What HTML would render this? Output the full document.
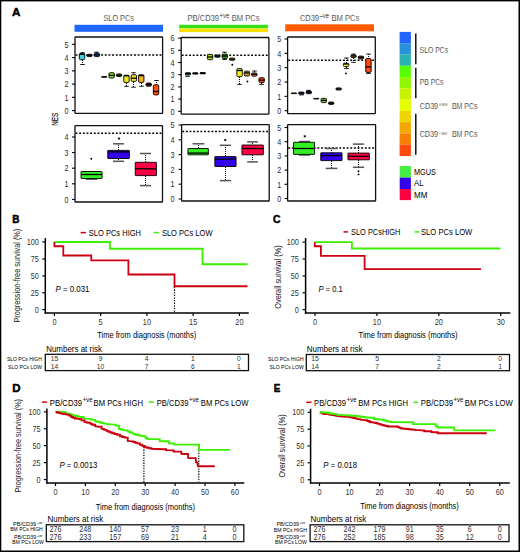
<!DOCTYPE html>
<html><head><meta charset="utf-8"><style>
html,body{margin:0;padding:0;background:#fff;}
body{width:520px;height:552px;overflow:hidden;font-family:"Liberation Sans",sans-serif;}
svg{display:block;}
</style></head><body>
<svg width="520" height="552" viewBox="0 0 520 552" font-family="'Liberation Sans', sans-serif"><style>text{stroke:none;}</style>
<rect x="0.00" y="0.00" width="520.00" height="552.00" fill="#fff" stroke="none" stroke-width="1" rx="0"/>
<text x="11.90" y="15.60" font-size="11" textLength="8.40" lengthAdjust="spacingAndGlyphs" font-weight="bold" style="stroke:#000;stroke-width:0.45px" fill="#000" >A</text>
<text x="103.50" y="21.00" font-size="9.0" textLength="30.40" lengthAdjust="spacingAndGlyphs" style="stroke:#fff;stroke-width:0.22px">SLO PCs</text>
<rect x="74.50" y="24.80" width="88.50" height="7.00" fill="#2166ff" stroke="none" stroke-width="1" rx="0"/>
<text x="187.40" y="21.00" font-size="9.0" textLength="31.70" lengthAdjust="spacingAndGlyphs" style="stroke:#fff;stroke-width:0.22px">PB/CD39</text>
<text x="219.60" y="18.40" font-size="6.8" textLength="9.60" lengthAdjust="spacingAndGlyphs" style="stroke:#fff;stroke-width:0.15px">+ve</text>
<text x="231.70" y="21.00" font-size="9.0" textLength="27.90" lengthAdjust="spacingAndGlyphs" style="stroke:#fff;stroke-width:0.22px">BM PCs</text>
<rect x="179.20" y="24.80" width="88.70" height="3.60" fill="#33e01a" stroke="none" stroke-width="1" rx="0"/>
<rect x="179.20" y="28.40" width="88.70" height="3.70" fill="#ffe100" stroke="none" stroke-width="1" rx="0"/>
<text x="300.00" y="21.00" font-size="9.0" textLength="19.00" lengthAdjust="spacingAndGlyphs" style="stroke:#fff;stroke-width:0.22px">CD39</text>
<text x="319.50" y="18.40" font-size="6.8" textLength="9.60" lengthAdjust="spacingAndGlyphs" style="stroke:#fff;stroke-width:0.15px">–ve</text>
<text x="331.50" y="21.00" font-size="9.0" textLength="27.90" lengthAdjust="spacingAndGlyphs" style="stroke:#fff;stroke-width:0.22px">BM PCs</text>
<rect x="285.20" y="24.30" width="88.80" height="7.00" fill="#ff5a00" stroke="none" stroke-width="1" rx="0"/>
<rect x="75.00" y="37.00" width="87.60" height="76.30" fill="none" stroke="#111" stroke-width="1.3" rx="0.6"/>
<rect x="181.20" y="37.50" width="87.70" height="76.60" fill="none" stroke="#111" stroke-width="1.3" rx="0.6"/>
<rect x="287.60" y="37.00" width="87.70" height="76.60" fill="none" stroke="#111" stroke-width="1.3" rx="0.6"/>
<rect x="75.00" y="125.60" width="87.50" height="76.40" fill="none" stroke="#111" stroke-width="1.3" rx="0.6"/>
<rect x="181.60" y="124.70" width="87.60" height="76.30" fill="none" stroke="#111" stroke-width="1.3" rx="0.6"/>
<rect x="287.60" y="124.70" width="88.00" height="76.30" fill="none" stroke="#111" stroke-width="1.3" rx="0.6"/>
<line x1="72.00" y1="110.60" x2="75.00" y2="110.60" stroke="#000" stroke-width="1.1" stroke-linecap="butt"/>
<text x="64.40" y="113.80" font-size="9.3" textLength="4.00" lengthAdjust="spacingAndGlyphs" fill="#2a2a2a" >0</text>
<line x1="72.00" y1="97.35" x2="75.00" y2="97.35" stroke="#000" stroke-width="1.1" stroke-linecap="butt"/>
<text x="64.40" y="100.55" font-size="9.3" textLength="4.00" lengthAdjust="spacingAndGlyphs" fill="#2a2a2a" >1</text>
<line x1="72.00" y1="84.10" x2="75.00" y2="84.10" stroke="#000" stroke-width="1.1" stroke-linecap="butt"/>
<text x="64.40" y="87.30" font-size="9.3" textLength="4.00" lengthAdjust="spacingAndGlyphs" fill="#2a2a2a" >2</text>
<line x1="72.00" y1="70.85" x2="75.00" y2="70.85" stroke="#000" stroke-width="1.1" stroke-linecap="butt"/>
<text x="64.40" y="74.05" font-size="9.3" textLength="4.00" lengthAdjust="spacingAndGlyphs" fill="#2a2a2a" >3</text>
<line x1="72.00" y1="57.60" x2="75.00" y2="57.60" stroke="#000" stroke-width="1.1" stroke-linecap="butt"/>
<text x="64.40" y="60.80" font-size="9.3" textLength="4.00" lengthAdjust="spacingAndGlyphs" fill="#2a2a2a" >4</text>
<line x1="72.00" y1="44.35" x2="75.00" y2="44.35" stroke="#000" stroke-width="1.1" stroke-linecap="butt"/>
<text x="64.40" y="47.55" font-size="9.3" textLength="4.00" lengthAdjust="spacingAndGlyphs" fill="#2a2a2a" >5</text>
<line x1="178.20" y1="111.30" x2="181.20" y2="111.30" stroke="#000" stroke-width="1.1" stroke-linecap="butt"/>
<text x="170.60" y="114.50" font-size="9.3" textLength="4.00" lengthAdjust="spacingAndGlyphs" fill="#2a2a2a" >0</text>
<line x1="178.20" y1="99.10" x2="181.20" y2="99.10" stroke="#000" stroke-width="1.1" stroke-linecap="butt"/>
<text x="170.60" y="102.30" font-size="9.3" textLength="4.00" lengthAdjust="spacingAndGlyphs" fill="#2a2a2a" >1</text>
<line x1="178.20" y1="86.90" x2="181.20" y2="86.90" stroke="#000" stroke-width="1.1" stroke-linecap="butt"/>
<text x="170.60" y="90.10" font-size="9.3" textLength="4.00" lengthAdjust="spacingAndGlyphs" fill="#2a2a2a" >2</text>
<line x1="178.20" y1="74.70" x2="181.20" y2="74.70" stroke="#000" stroke-width="1.1" stroke-linecap="butt"/>
<text x="170.60" y="77.90" font-size="9.3" textLength="4.00" lengthAdjust="spacingAndGlyphs" fill="#2a2a2a" >3</text>
<line x1="178.20" y1="62.50" x2="181.20" y2="62.50" stroke="#000" stroke-width="1.1" stroke-linecap="butt"/>
<text x="170.60" y="65.70" font-size="9.3" textLength="4.00" lengthAdjust="spacingAndGlyphs" fill="#2a2a2a" >4</text>
<line x1="178.20" y1="50.30" x2="181.20" y2="50.30" stroke="#000" stroke-width="1.1" stroke-linecap="butt"/>
<text x="170.60" y="53.50" font-size="9.3" textLength="4.00" lengthAdjust="spacingAndGlyphs" fill="#2a2a2a" >5</text>
<line x1="178.20" y1="38.10" x2="181.20" y2="38.10" stroke="#000" stroke-width="1.1" stroke-linecap="butt"/>
<text x="170.60" y="41.30" font-size="9.3" textLength="4.00" lengthAdjust="spacingAndGlyphs" fill="#2a2a2a" >6</text>
<line x1="284.60" y1="110.70" x2="287.60" y2="110.70" stroke="#000" stroke-width="1.1" stroke-linecap="butt"/>
<text x="277.20" y="113.90" font-size="9.3" textLength="4.00" lengthAdjust="spacingAndGlyphs" fill="#2a2a2a" >0</text>
<line x1="284.60" y1="96.36" x2="287.60" y2="96.36" stroke="#000" stroke-width="1.1" stroke-linecap="butt"/>
<text x="277.20" y="99.56" font-size="9.3" textLength="4.00" lengthAdjust="spacingAndGlyphs" fill="#2a2a2a" >1</text>
<line x1="284.60" y1="82.02" x2="287.60" y2="82.02" stroke="#000" stroke-width="1.1" stroke-linecap="butt"/>
<text x="277.20" y="85.22" font-size="9.3" textLength="4.00" lengthAdjust="spacingAndGlyphs" fill="#2a2a2a" >2</text>
<line x1="284.60" y1="67.68" x2="287.60" y2="67.68" stroke="#000" stroke-width="1.1" stroke-linecap="butt"/>
<text x="277.20" y="70.88" font-size="9.3" textLength="4.00" lengthAdjust="spacingAndGlyphs" fill="#2a2a2a" >3</text>
<line x1="284.60" y1="53.34" x2="287.60" y2="53.34" stroke="#000" stroke-width="1.1" stroke-linecap="butt"/>
<text x="277.20" y="56.54" font-size="9.3" textLength="4.00" lengthAdjust="spacingAndGlyphs" fill="#2a2a2a" >4</text>
<line x1="284.60" y1="39.00" x2="287.60" y2="39.00" stroke="#000" stroke-width="1.1" stroke-linecap="butt"/>
<text x="277.20" y="42.20" font-size="9.3" textLength="4.00" lengthAdjust="spacingAndGlyphs" fill="#2a2a2a" >5</text>
<line x1="72.00" y1="199.40" x2="75.00" y2="199.40" stroke="#000" stroke-width="1.1" stroke-linecap="butt"/>
<text x="64.40" y="202.60" font-size="9.3" textLength="4.00" lengthAdjust="spacingAndGlyphs" fill="#2a2a2a" >0</text>
<line x1="72.00" y1="183.80" x2="75.00" y2="183.80" stroke="#000" stroke-width="1.1" stroke-linecap="butt"/>
<text x="64.40" y="187.00" font-size="9.3" textLength="4.00" lengthAdjust="spacingAndGlyphs" fill="#2a2a2a" >1</text>
<line x1="72.00" y1="168.20" x2="75.00" y2="168.20" stroke="#000" stroke-width="1.1" stroke-linecap="butt"/>
<text x="64.40" y="171.40" font-size="9.3" textLength="4.00" lengthAdjust="spacingAndGlyphs" fill="#2a2a2a" >2</text>
<line x1="72.00" y1="152.60" x2="75.00" y2="152.60" stroke="#000" stroke-width="1.1" stroke-linecap="butt"/>
<text x="64.40" y="155.80" font-size="9.3" textLength="4.00" lengthAdjust="spacingAndGlyphs" fill="#2a2a2a" >3</text>
<line x1="72.00" y1="137.00" x2="75.00" y2="137.00" stroke="#000" stroke-width="1.1" stroke-linecap="butt"/>
<text x="64.40" y="140.20" font-size="9.3" textLength="4.00" lengthAdjust="spacingAndGlyphs" fill="#2a2a2a" >4</text>
<line x1="178.60" y1="199.00" x2="181.60" y2="199.00" stroke="#000" stroke-width="1.1" stroke-linecap="butt"/>
<text x="170.60" y="202.20" font-size="9.3" textLength="4.00" lengthAdjust="spacingAndGlyphs" fill="#2a2a2a" >0</text>
<line x1="178.60" y1="184.20" x2="181.60" y2="184.20" stroke="#000" stroke-width="1.1" stroke-linecap="butt"/>
<text x="170.60" y="187.40" font-size="9.3" textLength="4.00" lengthAdjust="spacingAndGlyphs" fill="#2a2a2a" >1</text>
<line x1="178.60" y1="169.40" x2="181.60" y2="169.40" stroke="#000" stroke-width="1.1" stroke-linecap="butt"/>
<text x="170.60" y="172.60" font-size="9.3" textLength="4.00" lengthAdjust="spacingAndGlyphs" fill="#2a2a2a" >2</text>
<line x1="178.60" y1="154.60" x2="181.60" y2="154.60" stroke="#000" stroke-width="1.1" stroke-linecap="butt"/>
<text x="170.60" y="157.80" font-size="9.3" textLength="4.00" lengthAdjust="spacingAndGlyphs" fill="#2a2a2a" >3</text>
<line x1="178.60" y1="139.80" x2="181.60" y2="139.80" stroke="#000" stroke-width="1.1" stroke-linecap="butt"/>
<text x="170.60" y="143.00" font-size="9.3" textLength="4.00" lengthAdjust="spacingAndGlyphs" fill="#2a2a2a" >4</text>
<line x1="178.60" y1="125.00" x2="181.60" y2="125.00" stroke="#000" stroke-width="1.1" stroke-linecap="butt"/>
<text x="170.60" y="128.20" font-size="9.3" textLength="4.00" lengthAdjust="spacingAndGlyphs" fill="#2a2a2a" >5</text>
<line x1="284.60" y1="198.50" x2="287.60" y2="198.50" stroke="#000" stroke-width="1.1" stroke-linecap="butt"/>
<text x="277.20" y="201.70" font-size="9.3" textLength="4.00" lengthAdjust="spacingAndGlyphs" fill="#2a2a2a" >0</text>
<line x1="284.60" y1="184.30" x2="287.60" y2="184.30" stroke="#000" stroke-width="1.1" stroke-linecap="butt"/>
<text x="277.20" y="187.50" font-size="9.3" textLength="4.00" lengthAdjust="spacingAndGlyphs" fill="#2a2a2a" >1</text>
<line x1="284.60" y1="170.10" x2="287.60" y2="170.10" stroke="#000" stroke-width="1.1" stroke-linecap="butt"/>
<text x="277.20" y="173.30" font-size="9.3" textLength="4.00" lengthAdjust="spacingAndGlyphs" fill="#2a2a2a" >2</text>
<line x1="284.60" y1="155.90" x2="287.60" y2="155.90" stroke="#000" stroke-width="1.1" stroke-linecap="butt"/>
<text x="277.20" y="159.10" font-size="9.3" textLength="4.00" lengthAdjust="spacingAndGlyphs" fill="#2a2a2a" >3</text>
<line x1="284.60" y1="141.70" x2="287.60" y2="141.70" stroke="#000" stroke-width="1.1" stroke-linecap="butt"/>
<text x="277.20" y="144.90" font-size="9.3" textLength="4.00" lengthAdjust="spacingAndGlyphs" fill="#2a2a2a" >4</text>
<line x1="284.60" y1="127.50" x2="287.60" y2="127.50" stroke="#000" stroke-width="1.1" stroke-linecap="butt"/>
<text x="277.20" y="130.70" font-size="9.3" textLength="4.00" lengthAdjust="spacingAndGlyphs" fill="#2a2a2a" >5</text>
<text x="0" y="0" font-size="9.8" textLength="13.2" lengthAdjust="spacingAndGlyphs" fill="#222222" style="stroke:#222;stroke-width:0.2px" transform="translate(57.9,125.8) rotate(-90)">NES</text>
<line x1="75.60" y1="55.00" x2="162.00" y2="55.00" stroke="#000" stroke-width="1.5" stroke-dasharray="1.9 1.75" stroke-linecap="butt"/>
<line x1="181.80" y1="55.30" x2="268.30" y2="55.30" stroke="#000" stroke-width="1.5" stroke-dasharray="1.9 1.75" stroke-linecap="butt"/>
<line x1="288.20" y1="60.20" x2="374.70" y2="60.20" stroke="#000" stroke-width="1.5" stroke-dasharray="1.9 1.75" stroke-linecap="butt"/>
<line x1="75.60" y1="133.30" x2="162.00" y2="133.30" stroke="#000" stroke-width="1.5" stroke-dasharray="1.9 1.75" stroke-linecap="butt"/>
<line x1="182.20" y1="131.60" x2="268.60" y2="131.60" stroke="#000" stroke-width="1.5" stroke-dasharray="1.9 1.75" stroke-linecap="butt"/>
<line x1="288.20" y1="148.10" x2="375.00" y2="148.10" stroke="#000" stroke-width="1.5" stroke-dasharray="1.9 1.75" stroke-linecap="butt"/>
<line x1="82.50" y1="52.00" x2="82.50" y2="53.50" stroke="#000" stroke-width="1.0" stroke-dasharray="1 1" stroke-linecap="butt"/>
<line x1="80.23" y1="52.80" x2="84.77" y2="52.80" stroke="#000" stroke-width="0.9" stroke-linecap="butt"/>
<line x1="82.50" y1="60.00" x2="82.50" y2="64.50" stroke="#000" stroke-width="1.0" stroke-dasharray="1 1" stroke-linecap="butt"/>
<line x1="80.23" y1="64.50" x2="84.77" y2="64.50" stroke="#000" stroke-width="0.9" stroke-linecap="butt"/>
<rect x="79.35" y="53.50" width="5.40" height="6.20" fill="#3fd0dc" stroke="#000" stroke-width="0.9" rx="1.2"/>
<line x1="79.35" y1="54.30" x2="84.75" y2="54.30" stroke="#000" stroke-width="1.3" stroke-linecap="butt"/>
<rect x="86.75" y="54.30" width="5.40" height="2.30" fill="#2a5fa8" stroke="#000" stroke-width="0.9" rx="1.1500000000000021"/>
<line x1="86.75" y1="55.40" x2="92.15" y2="55.40" stroke="#000" stroke-width="1.3" stroke-linecap="butt"/>
<line x1="96.50" y1="52.00" x2="96.50" y2="53.20" stroke="#000" stroke-width="1.0" stroke-dasharray="1 1" stroke-linecap="butt"/>
<line x1="94.23" y1="52.20" x2="98.77" y2="52.20" stroke="#000" stroke-width="0.9" stroke-linecap="butt"/>
<rect x="94.15" y="53.20" width="5.40" height="3.40" fill="#1f4fb0" stroke="#000" stroke-width="0.9" rx="1.2"/>
<line x1="94.15" y1="54.90" x2="99.55" y2="54.90" stroke="#000" stroke-width="1.3" stroke-linecap="butt"/>
<rect x="101.55" y="76.60" width="5.40" height="0.70" fill="#208030" stroke="#000" stroke-width="0.9" rx="0.3500000000000014"/>
<rect x="108.95" y="72.70" width="5.40" height="5.30" fill="#7fe01c" stroke="#000" stroke-width="0.9" rx="1.2"/>
<line x1="108.95" y1="75.40" x2="114.35" y2="75.40" stroke="#000" stroke-width="1.3" stroke-linecap="butt"/>
<rect x="116.35" y="73.90" width="5.40" height="2.60" fill="#3c8020" stroke="#000" stroke-width="0.9" rx="1.2"/>
<line x1="116.35" y1="75.20" x2="121.75" y2="75.20" stroke="#000" stroke-width="1.3" stroke-linecap="butt"/>
<line x1="126.50" y1="83.00" x2="126.50" y2="86.30" stroke="#000" stroke-width="1.0" stroke-dasharray="1 1" stroke-linecap="butt"/>
<line x1="124.23" y1="86.30" x2="128.77" y2="86.30" stroke="#000" stroke-width="0.9" stroke-linecap="butt"/>
<rect x="123.75" y="75.20" width="5.40" height="7.20" fill="#eef01a" stroke="#000" stroke-width="0.9" rx="1.2"/>
<line x1="123.75" y1="75.80" x2="129.15" y2="75.80" stroke="#000" stroke-width="1.3" stroke-linecap="butt"/>
<line x1="133.50" y1="72.00" x2="133.50" y2="74.70" stroke="#000" stroke-width="1.0" stroke-dasharray="1 1" stroke-linecap="butt"/>
<line x1="131.23" y1="72.80" x2="135.77" y2="72.80" stroke="#000" stroke-width="0.9" stroke-linecap="butt"/>
<line x1="133.50" y1="82.00" x2="133.50" y2="87.20" stroke="#000" stroke-width="1.0" stroke-dasharray="1 1" stroke-linecap="butt"/>
<line x1="131.23" y1="87.20" x2="135.77" y2="87.20" stroke="#000" stroke-width="0.9" stroke-linecap="butt"/>
<rect x="131.15" y="74.70" width="5.40" height="6.70" fill="#f0e020" stroke="#000" stroke-width="0.9" rx="1.2"/>
<line x1="131.15" y1="78.20" x2="136.55" y2="78.20" stroke="#000" stroke-width="1.3" stroke-linecap="butt"/>
<line x1="141.50" y1="83.00" x2="141.50" y2="86.30" stroke="#000" stroke-width="1.0" stroke-dasharray="1 1" stroke-linecap="butt"/>
<line x1="139.23" y1="86.30" x2="143.77" y2="86.30" stroke="#000" stroke-width="0.9" stroke-linecap="butt"/>
<rect x="138.55" y="74.70" width="5.40" height="7.70" fill="#f2b01a" stroke="#000" stroke-width="0.9" rx="1.2"/>
<line x1="138.55" y1="75.60" x2="143.95" y2="75.60" stroke="#000" stroke-width="1.3" stroke-linecap="butt"/>
<rect x="145.95" y="83.00" width="5.40" height="3.20" fill="#803010" stroke="#000" stroke-width="0.9" rx="1.2"/>
<line x1="145.95" y1="84.60" x2="151.35" y2="84.60" stroke="#000" stroke-width="1.3" stroke-linecap="butt"/>
<line x1="156.50" y1="80.00" x2="156.50" y2="84.80" stroke="#000" stroke-width="1.0" stroke-dasharray="1 1" stroke-linecap="butt"/>
<line x1="154.23" y1="80.50" x2="158.77" y2="80.50" stroke="#000" stroke-width="0.9" stroke-linecap="butt"/>
<rect x="153.35" y="84.80" width="5.40" height="10.10" fill="#ff5010" stroke="#000" stroke-width="0.9" rx="1.2"/>
<line x1="153.35" y1="91.50" x2="158.75" y2="91.50" stroke="#000" stroke-width="1.3" stroke-linecap="butt"/>
<line x1="187.50" y1="76.00" x2="187.50" y2="76.30" stroke="#000" stroke-width="1.0" stroke-dasharray="1 1" stroke-linecap="butt"/>
<line x1="185.23" y1="76.30" x2="189.77" y2="76.30" stroke="#000" stroke-width="0.9" stroke-linecap="butt"/>
<rect x="185.25" y="72.80" width="5.40" height="2.20" fill="#1f7a80" stroke="#000" stroke-width="0.9" rx="1.1000000000000014"/>
<line x1="185.25" y1="73.40" x2="190.65" y2="73.40" stroke="#000" stroke-width="1.3" stroke-linecap="butt"/>
<rect x="192.62" y="72.80" width="5.40" height="1.30" fill="#205060" stroke="#000" stroke-width="0.9" rx="0.6499999999999986"/>
<line x1="192.62" y1="73.40" x2="198.02" y2="73.40" stroke="#000" stroke-width="1.3" stroke-linecap="butt"/>
<rect x="199.99" y="72.60" width="5.40" height="1.20" fill="#203040" stroke="#000" stroke-width="0.9" rx="0.6000000000000014"/>
<line x1="199.99" y1="73.20" x2="205.39" y2="73.20" stroke="#000" stroke-width="1.3" stroke-linecap="butt"/>
<rect x="207.36" y="54.40" width="5.40" height="5.30" fill="#a8d81c" stroke="#000" stroke-width="0.9" rx="1.2"/>
<line x1="207.36" y1="57.00" x2="212.76" y2="57.00" stroke="#000" stroke-width="1.3" stroke-linecap="butt"/>
<rect x="214.73" y="55.00" width="5.40" height="2.20" fill="#40701c" stroke="#000" stroke-width="0.9" rx="1.1000000000000014"/>
<line x1="214.73" y1="56.10" x2="220.13" y2="56.10" stroke="#000" stroke-width="1.3" stroke-linecap="butt"/>
<line x1="224.50" y1="52.00" x2="224.50" y2="54.10" stroke="#000" stroke-width="1.0" stroke-dasharray="1 1" stroke-linecap="butt"/>
<line x1="222.23" y1="52.20" x2="226.77" y2="52.20" stroke="#000" stroke-width="0.9" stroke-linecap="butt"/>
<line x1="224.50" y1="59.00" x2="224.50" y2="59.40" stroke="#000" stroke-width="1.0" stroke-dasharray="1 1" stroke-linecap="butt"/>
<line x1="222.23" y1="59.40" x2="226.77" y2="59.40" stroke="#000" stroke-width="0.9" stroke-linecap="butt"/>
<rect x="222.10" y="54.10" width="5.40" height="4.40" fill="#3aa020" stroke="#000" stroke-width="0.9" rx="1.2"/>
<line x1="222.10" y1="56.00" x2="227.50" y2="56.00" stroke="#000" stroke-width="1.3" stroke-linecap="butt"/>
<rect x="229.47" y="58.00" width="5.40" height="2.30" fill="#c0d020" stroke="#000" stroke-width="0.9" rx="1.1499999999999986"/>
<line x1="229.47" y1="59.20" x2="234.87" y2="59.20" stroke="#000" stroke-width="1.3" stroke-linecap="butt"/>
<circle cx="232.30" cy="64.70" r="0.95" fill="#000"/>
<line x1="239.50" y1="77.00" x2="239.50" y2="84.40" stroke="#000" stroke-width="1.0" stroke-dasharray="1 1" stroke-linecap="butt"/>
<line x1="237.23" y1="84.40" x2="241.77" y2="84.40" stroke="#000" stroke-width="0.9" stroke-linecap="butt"/>
<rect x="236.84" y="68.60" width="5.40" height="8.10" fill="#f0f020" stroke="#000" stroke-width="0.9" rx="1.2"/>
<line x1="236.84" y1="70.50" x2="242.24" y2="70.50" stroke="#000" stroke-width="1.3" stroke-linecap="butt"/>
<rect x="244.21" y="71.20" width="5.40" height="4.80" fill="#d09a20" stroke="#000" stroke-width="0.9" rx="1.2"/>
<line x1="244.21" y1="72.90" x2="249.61" y2="72.90" stroke="#000" stroke-width="1.3" stroke-linecap="butt"/>
<circle cx="247.40" cy="81.50" r="0.95" fill="#000"/>
<line x1="254.50" y1="71.00" x2="254.50" y2="72.90" stroke="#000" stroke-width="1.0" stroke-dasharray="1 1" stroke-linecap="butt"/>
<line x1="252.23" y1="71.00" x2="256.77" y2="71.00" stroke="#000" stroke-width="0.9" stroke-linecap="butt"/>
<rect x="251.58" y="72.90" width="5.40" height="3.30" fill="#f08020" stroke="#000" stroke-width="0.9" rx="1.2"/>
<line x1="251.58" y1="74.30" x2="256.98" y2="74.30" stroke="#000" stroke-width="1.3" stroke-linecap="butt"/>
<line x1="261.50" y1="83.00" x2="261.50" y2="84.40" stroke="#000" stroke-width="1.0" stroke-dasharray="1 1" stroke-linecap="butt"/>
<line x1="259.23" y1="84.40" x2="263.77" y2="84.40" stroke="#000" stroke-width="0.9" stroke-linecap="butt"/>
<rect x="258.95" y="77.70" width="5.40" height="4.80" fill="#ff4a10" stroke="#000" stroke-width="0.9" rx="1.2"/>
<line x1="258.95" y1="80.10" x2="264.35" y2="80.10" stroke="#000" stroke-width="1.3" stroke-linecap="butt"/>
<rect x="291.25" y="92.90" width="5.40" height="0.70" fill="#202020" stroke="#000" stroke-width="0.9" rx="0.3499999999999943"/>
<line x1="301.50" y1="95.00" x2="301.50" y2="94.90" stroke="#000" stroke-width="1.0" stroke-dasharray="1 1" stroke-linecap="butt"/>
<line x1="299.23" y1="94.90" x2="303.77" y2="94.90" stroke="#000" stroke-width="0.9" stroke-linecap="butt"/>
<rect x="298.70" y="92.10" width="5.40" height="2.10" fill="#2a5fa8" stroke="#000" stroke-width="0.9" rx="1.0500000000000043"/>
<line x1="298.70" y1="93.00" x2="304.10" y2="93.00" stroke="#000" stroke-width="1.3" stroke-linecap="butt"/>
<line x1="308.50" y1="90.00" x2="308.50" y2="91.10" stroke="#000" stroke-width="1.0" stroke-dasharray="1 1" stroke-linecap="butt"/>
<line x1="306.23" y1="90.40" x2="310.77" y2="90.40" stroke="#000" stroke-width="0.9" stroke-linecap="butt"/>
<rect x="306.15" y="91.10" width="5.40" height="2.60" fill="#1f3f90" stroke="#000" stroke-width="0.9" rx="1.2"/>
<line x1="306.15" y1="92.40" x2="311.55" y2="92.40" stroke="#000" stroke-width="1.3" stroke-linecap="butt"/>
<rect x="313.60" y="98.40" width="5.40" height="0.60" fill="#202020" stroke="#000" stroke-width="0.9" rx="0.29999999999999716"/>
<rect x="321.05" y="98.30" width="5.40" height="4.30" fill="#80d020" stroke="#000" stroke-width="0.9" rx="1.2"/>
<line x1="321.05" y1="100.40" x2="326.45" y2="100.40" stroke="#000" stroke-width="1.3" stroke-linecap="butt"/>
<rect x="328.50" y="102.00" width="5.40" height="2.40" fill="#306020" stroke="#000" stroke-width="0.9" rx="1.2"/>
<line x1="328.50" y1="103.20" x2="333.90" y2="103.20" stroke="#000" stroke-width="1.3" stroke-linecap="butt"/>
<rect x="335.95" y="87.90" width="5.40" height="2.10" fill="#808020" stroke="#000" stroke-width="0.9" rx="1.0499999999999972"/>
<line x1="335.95" y1="89.00" x2="341.35" y2="89.00" stroke="#000" stroke-width="1.3" stroke-linecap="butt"/>
<line x1="346.50" y1="58.00" x2="346.50" y2="63.30" stroke="#000" stroke-width="1.0" stroke-dasharray="1 1" stroke-linecap="butt"/>
<line x1="344.23" y1="58.00" x2="348.77" y2="58.00" stroke="#000" stroke-width="0.9" stroke-linecap="butt"/>
<line x1="346.50" y1="67.00" x2="346.50" y2="68.60" stroke="#000" stroke-width="1.0" stroke-dasharray="1 1" stroke-linecap="butt"/>
<line x1="344.23" y1="68.60" x2="348.77" y2="68.60" stroke="#000" stroke-width="0.9" stroke-linecap="butt"/>
<rect x="343.40" y="63.30" width="5.40" height="3.30" fill="#f0f020" stroke="#000" stroke-width="0.9" rx="1.2"/>
<line x1="343.40" y1="64.00" x2="348.80" y2="64.00" stroke="#000" stroke-width="1.3" stroke-linecap="butt"/>
<circle cx="345.90" cy="73.40" r="0.95" fill="#000"/>
<line x1="353.50" y1="54.00" x2="353.50" y2="55.00" stroke="#000" stroke-width="1.0" stroke-dasharray="1 1" stroke-linecap="butt"/>
<line x1="351.23" y1="54.10" x2="355.77" y2="54.10" stroke="#000" stroke-width="0.9" stroke-linecap="butt"/>
<line x1="353.50" y1="58.00" x2="353.50" y2="62.30" stroke="#000" stroke-width="1.0" stroke-dasharray="1 1" stroke-linecap="butt"/>
<line x1="351.23" y1="62.30" x2="355.77" y2="62.30" stroke="#000" stroke-width="0.9" stroke-linecap="butt"/>
<rect x="350.85" y="55.00" width="5.40" height="2.50" fill="#d09020" stroke="#000" stroke-width="0.9" rx="1.2"/>
<line x1="350.85" y1="56.00" x2="356.25" y2="56.00" stroke="#000" stroke-width="1.3" stroke-linecap="butt"/>
<rect x="358.30" y="56.10" width="5.40" height="2.90" fill="#904020" stroke="#000" stroke-width="0.9" rx="1.2"/>
<line x1="358.30" y1="57.40" x2="363.70" y2="57.40" stroke="#000" stroke-width="1.3" stroke-linecap="butt"/>
<line x1="368.50" y1="54.00" x2="368.50" y2="58.50" stroke="#000" stroke-width="1.0" stroke-dasharray="1 1" stroke-linecap="butt"/>
<line x1="366.23" y1="54.10" x2="370.77" y2="54.10" stroke="#000" stroke-width="0.9" stroke-linecap="butt"/>
<line x1="368.50" y1="73.00" x2="368.50" y2="73.40" stroke="#000" stroke-width="1.0" stroke-dasharray="1 1" stroke-linecap="butt"/>
<line x1="366.23" y1="73.40" x2="370.77" y2="73.40" stroke="#000" stroke-width="0.9" stroke-linecap="butt"/>
<rect x="365.75" y="58.50" width="5.40" height="13.90" fill="#ff4a10" stroke="#000" stroke-width="0.9" rx="1.2"/>
<line x1="365.75" y1="66.90" x2="371.15" y2="66.90" stroke="#000" stroke-width="1.3" stroke-linecap="butt"/>
<line x1="91.50" y1="179.00" x2="91.50" y2="179.20" stroke="#000" stroke-width="1.0" stroke-dasharray="1 1" stroke-linecap="butt"/>
<line x1="85.85" y1="179.20" x2="97.15" y2="179.20" stroke="#555" stroke-width="1.5" stroke-linecap="butt"/>
<rect x="81.05" y="171.50" width="21.00" height="7.00" fill="#33ee22" stroke="#000" stroke-width="0.9" rx="0.3"/>
<line x1="81.05" y1="174.50" x2="102.05" y2="174.50" stroke="#000" stroke-width="1.3" stroke-linecap="butt"/>
<circle cx="91.25" cy="158.75" r="0.95" fill="#000"/>
<line x1="118.50" y1="143.00" x2="118.50" y2="150.40" stroke="#000" stroke-width="1.0" stroke-dasharray="1 1" stroke-linecap="butt"/>
<line x1="113.00" y1="143.80" x2="124.00" y2="143.80" stroke="#555" stroke-width="1.5" stroke-linecap="butt"/>
<line x1="118.50" y1="159.00" x2="118.50" y2="161.30" stroke="#000" stroke-width="1.0" stroke-dasharray="1 1" stroke-linecap="butt"/>
<line x1="113.00" y1="161.30" x2="124.00" y2="161.30" stroke="#555" stroke-width="1.5" stroke-linecap="butt"/>
<rect x="107.75" y="150.40" width="21.60" height="8.10" fill="#3300ee" stroke="#000" stroke-width="0.9" rx="0.3"/>
<line x1="107.75" y1="151.90" x2="129.35" y2="151.90" stroke="#000" stroke-width="1.3" stroke-linecap="butt"/>
<path d="M117.90,137.90L120.10,139.10M117.90,139.10L120.10,137.90M119.00,137.30V139.70" stroke="#000" stroke-width="0.8"/>
<line x1="145.50" y1="153.00" x2="145.50" y2="162.30" stroke="#000" stroke-width="1.0" stroke-dasharray="1 1" stroke-linecap="butt"/>
<line x1="140.00" y1="153.50" x2="151.00" y2="153.50" stroke="#555" stroke-width="1.5" stroke-linecap="butt"/>
<line x1="145.50" y1="176.00" x2="145.50" y2="185.60" stroke="#000" stroke-width="1.0" stroke-dasharray="1 1" stroke-linecap="butt"/>
<line x1="140.00" y1="185.60" x2="151.00" y2="185.60" stroke="#555" stroke-width="1.5" stroke-linecap="butt"/>
<rect x="135.25" y="162.30" width="21.20" height="13.30" fill="#ff0044" stroke="#000" stroke-width="0.9" rx="0.3"/>
<line x1="135.25" y1="168.80" x2="156.45" y2="168.80" stroke="#000" stroke-width="1.3" stroke-linecap="butt"/>
<line x1="198.50" y1="143.00" x2="198.50" y2="148.50" stroke="#000" stroke-width="1.0" stroke-dasharray="1 1" stroke-linecap="butt"/>
<line x1="192.60" y1="143.80" x2="204.40" y2="143.80" stroke="#555" stroke-width="1.5" stroke-linecap="butt"/>
<rect x="187.95" y="148.50" width="20.40" height="6.30" fill="#33ee22" stroke="#000" stroke-width="0.9" rx="0.3"/>
<line x1="187.95" y1="153.10" x2="208.35" y2="153.10" stroke="#000" stroke-width="1.3" stroke-linecap="butt"/>
<line x1="225.50" y1="145.00" x2="225.50" y2="156.60" stroke="#000" stroke-width="1.0" stroke-dasharray="1 1" stroke-linecap="butt"/>
<line x1="219.85" y1="145.30" x2="231.15" y2="145.30" stroke="#555" stroke-width="1.5" stroke-linecap="butt"/>
<line x1="225.50" y1="167.00" x2="225.50" y2="180.60" stroke="#000" stroke-width="1.0" stroke-dasharray="1 1" stroke-linecap="butt"/>
<line x1="219.85" y1="180.60" x2="231.15" y2="180.60" stroke="#555" stroke-width="1.5" stroke-linecap="butt"/>
<rect x="214.85" y="156.60" width="21.20" height="9.90" fill="#3300ee" stroke="#000" stroke-width="0.9" rx="0.3"/>
<line x1="214.85" y1="159.10" x2="236.05" y2="159.10" stroke="#000" stroke-width="1.3" stroke-linecap="butt"/>
<path d="M224.20,139.40L226.40,140.60M224.20,140.60L226.40,139.40M225.30,138.80V141.20" stroke="#000" stroke-width="0.8"/>
<line x1="252.50" y1="141.00" x2="252.50" y2="145.00" stroke="#000" stroke-width="1.0" stroke-dasharray="1 1" stroke-linecap="butt"/>
<line x1="247.15" y1="141.90" x2="257.85" y2="141.90" stroke="#555" stroke-width="1.5" stroke-linecap="butt"/>
<line x1="252.50" y1="155.00" x2="252.50" y2="161.90" stroke="#000" stroke-width="1.0" stroke-dasharray="1 1" stroke-linecap="butt"/>
<line x1="247.15" y1="161.90" x2="257.85" y2="161.90" stroke="#555" stroke-width="1.5" stroke-linecap="butt"/>
<rect x="241.95" y="145.00" width="21.40" height="9.80" fill="#ff0044" stroke="#000" stroke-width="0.9" rx="0.3"/>
<line x1="241.95" y1="148.50" x2="263.35" y2="148.50" stroke="#000" stroke-width="1.3" stroke-linecap="butt"/>
<line x1="304.50" y1="141.00" x2="304.50" y2="142.30" stroke="#000" stroke-width="1.0" stroke-dasharray="1 1" stroke-linecap="butt"/>
<line x1="298.85" y1="141.50" x2="310.15" y2="141.50" stroke="#555" stroke-width="1.5" stroke-linecap="butt"/>
<line x1="304.50" y1="155.00" x2="304.50" y2="155.00" stroke="#000" stroke-width="1.0" stroke-dasharray="1 1" stroke-linecap="butt"/>
<line x1="298.85" y1="155.00" x2="310.15" y2="155.00" stroke="#555" stroke-width="1.5" stroke-linecap="butt"/>
<rect x="293.55" y="142.30" width="21.00" height="12.10" fill="#33ee22" stroke="#000" stroke-width="0.9" rx="0.3"/>
<line x1="293.55" y1="148.50" x2="314.55" y2="148.50" stroke="#000" stroke-width="1.3" stroke-linecap="butt"/>
<path d="M303.70,135.70L305.90,136.90M303.70,136.90L305.90,135.70M304.80,135.10V137.50" stroke="#000" stroke-width="0.8"/>
<line x1="331.50" y1="148.00" x2="331.50" y2="152.80" stroke="#000" stroke-width="1.0" stroke-dasharray="1 1" stroke-linecap="butt"/>
<line x1="325.65" y1="148.50" x2="337.35" y2="148.50" stroke="#555" stroke-width="1.5" stroke-linecap="butt"/>
<line x1="331.50" y1="161.00" x2="331.50" y2="168.40" stroke="#000" stroke-width="1.0" stroke-dasharray="1 1" stroke-linecap="butt"/>
<line x1="325.65" y1="168.40" x2="337.35" y2="168.40" stroke="#555" stroke-width="1.5" stroke-linecap="butt"/>
<rect x="320.75" y="152.80" width="21.30" height="7.80" fill="#3300ee" stroke="#000" stroke-width="0.9" rx="0.3"/>
<line x1="320.75" y1="155.60" x2="342.05" y2="155.60" stroke="#000" stroke-width="1.3" stroke-linecap="butt"/>
<line x1="358.50" y1="144.00" x2="358.50" y2="153.10" stroke="#000" stroke-width="1.0" stroke-dasharray="1 1" stroke-linecap="butt"/>
<line x1="352.85" y1="144.10" x2="364.15" y2="144.10" stroke="#555" stroke-width="1.5" stroke-linecap="butt"/>
<line x1="358.50" y1="160.00" x2="358.50" y2="167.30" stroke="#000" stroke-width="1.0" stroke-dasharray="1 1" stroke-linecap="butt"/>
<line x1="352.85" y1="167.30" x2="364.15" y2="167.30" stroke="#555" stroke-width="1.5" stroke-linecap="butt"/>
<rect x="347.95" y="153.10" width="21.40" height="6.70" fill="#ff0044" stroke="#000" stroke-width="0.9" rx="0.3"/>
<line x1="347.95" y1="156.30" x2="369.35" y2="156.30" stroke="#000" stroke-width="1.3" stroke-linecap="butt"/>
<circle cx="358.50" cy="171.30" r="0.95" fill="#000"/>
<circle cx="358.50" cy="174.40" r="0.95" fill="#000"/>
<rect x="399.60" y="31.90" width="11.30" height="11.33" fill="#2266ff" stroke="none" stroke-width="1" rx="0"/>
<rect x="399.60" y="43.18" width="11.30" height="11.33" fill="#2a90da" stroke="none" stroke-width="1" rx="0"/>
<rect x="399.60" y="54.46" width="11.30" height="11.33" fill="#2ab2b2" stroke="none" stroke-width="1" rx="0"/>
<rect x="399.60" y="65.75" width="11.30" height="11.33" fill="#55ff00" stroke="none" stroke-width="1" rx="0"/>
<rect x="399.60" y="77.03" width="11.30" height="11.33" fill="#92f500" stroke="none" stroke-width="1" rx="0"/>
<rect x="399.60" y="88.31" width="11.30" height="11.33" fill="#c8f200" stroke="none" stroke-width="1" rx="0"/>
<rect x="399.60" y="99.59" width="11.30" height="11.33" fill="#e6ff00" stroke="none" stroke-width="1" rx="0"/>
<rect x="399.60" y="110.87" width="11.30" height="11.33" fill="#eed400" stroke="none" stroke-width="1" rx="0"/>
<rect x="399.60" y="122.15" width="11.30" height="11.33" fill="#f2a800" stroke="none" stroke-width="1" rx="0"/>
<rect x="399.60" y="133.44" width="11.30" height="11.33" fill="#fa7e00" stroke="none" stroke-width="1" rx="0"/>
<rect x="399.60" y="144.72" width="11.30" height="11.33" fill="#ff4a10" stroke="none" stroke-width="1" rx="0"/>
<line x1="415.80" y1="33.60" x2="415.80" y2="64.20" stroke="#000" stroke-width="1.4" stroke-linecap="butt"/>
<line x1="415.80" y1="67.70" x2="415.80" y2="98.30" stroke="#000" stroke-width="1.4" stroke-linecap="butt"/>
<line x1="415.80" y1="113.80" x2="415.80" y2="154.80" stroke="#000" stroke-width="1.4" stroke-linecap="butt"/>
<text x="419.60" y="52.80" font-size="8.6" textLength="28.60" lengthAdjust="spacingAndGlyphs" style="stroke:#fff;stroke-width:0.22px">SLO PCs</text>
<text x="419.80" y="84.90" font-size="8.6" textLength="23.60" lengthAdjust="spacingAndGlyphs" style="stroke:#fff;stroke-width:0.22px">PB PCs</text>
<text x="419.80" y="108.60" font-size="8.6" textLength="18.30" lengthAdjust="spacingAndGlyphs" style="stroke:#fff;stroke-width:0.22px">CD39</text>
<text x="438.60" y="106.20" font-size="6.2" textLength="9.00" lengthAdjust="spacingAndGlyphs" style="stroke:#fff;stroke-width:0.15px">+ve</text>
<text x="451.90" y="108.60" font-size="8.6" textLength="25.60" lengthAdjust="spacingAndGlyphs" style="stroke:#fff;stroke-width:0.22px">BM PCs</text>
<text x="419.70" y="137.10" font-size="8.6" textLength="18.30" lengthAdjust="spacingAndGlyphs" style="stroke:#fff;stroke-width:0.22px">CD39</text>
<text x="438.60" y="134.70" font-size="6.2" textLength="8.60" lengthAdjust="spacingAndGlyphs" style="stroke:#fff;stroke-width:0.15px">–ve</text>
<text x="451.90" y="137.10" font-size="8.6" textLength="25.60" lengthAdjust="spacingAndGlyphs" style="stroke:#fff;stroke-width:0.22px">BM PCs</text>
<rect x="399.70" y="166.00" width="11.20" height="11.60" fill="#44ee44" stroke="none" stroke-width="1" rx="0"/>
<rect x="399.70" y="177.60" width="11.20" height="11.40" fill="#3300ee" stroke="none" stroke-width="1" rx="0"/>
<rect x="399.70" y="189.00" width="11.20" height="11.10" fill="#ff0044" stroke="none" stroke-width="1" rx="0"/>
<text x="414.00" y="174.70" font-size="8.6" textLength="22.00" lengthAdjust="spacingAndGlyphs" >MGUS</text>
<text x="414.00" y="186.30" font-size="8.6" textLength="9.50" lengthAdjust="spacingAndGlyphs" >AL</text>
<text x="414.00" y="197.70" font-size="8.6" textLength="13.30" lengthAdjust="spacingAndGlyphs" >MM</text>
<text x="12.25" y="222.50" font-size="10" textLength="7.20" lengthAdjust="spacingAndGlyphs" font-weight="bold" style="stroke:#000;stroke-width:0.45px" fill="#000" >B</text>
<line x1="45.30" y1="238.10" x2="45.30" y2="313.50" stroke="#000" stroke-width="1.5" stroke-linecap="butt"/>
<line x1="44.60" y1="312.90" x2="248.80" y2="312.90" stroke="#000" stroke-width="1.5" stroke-linecap="butt"/>
<line x1="42.30" y1="241.90" x2="45.30" y2="241.90" stroke="#000" stroke-width="1.2" stroke-linecap="butt"/>
<text x="26.65" y="244.80" font-size="8.2" textLength="12.15" lengthAdjust="spacingAndGlyphs" fill="#333" style="stroke-width:0.08px">100</text>
<line x1="42.30" y1="259.00" x2="45.30" y2="259.00" stroke="#000" stroke-width="1.2" stroke-linecap="butt"/>
<text x="30.70" y="261.90" font-size="8.2" textLength="8.10" lengthAdjust="spacingAndGlyphs" fill="#333" style="stroke-width:0.08px">75</text>
<line x1="42.30" y1="275.90" x2="45.30" y2="275.90" stroke="#000" stroke-width="1.2" stroke-linecap="butt"/>
<text x="30.70" y="278.80" font-size="8.2" textLength="8.10" lengthAdjust="spacingAndGlyphs" fill="#333" style="stroke-width:0.08px">50</text>
<line x1="42.30" y1="292.75" x2="45.30" y2="292.75" stroke="#000" stroke-width="1.2" stroke-linecap="butt"/>
<text x="30.70" y="295.65" font-size="8.2" textLength="8.10" lengthAdjust="spacingAndGlyphs" fill="#333" style="stroke-width:0.08px">25</text>
<line x1="42.30" y1="309.60" x2="45.30" y2="309.60" stroke="#000" stroke-width="1.2" stroke-linecap="butt"/>
<text x="34.75" y="312.50" font-size="8.2" textLength="4.05" lengthAdjust="spacingAndGlyphs" fill="#333" style="stroke-width:0.08px">0</text>
<line x1="54.40" y1="312.90" x2="54.40" y2="315.90" stroke="#000" stroke-width="1.2" stroke-linecap="butt"/>
<text x="52.38" y="324.80" font-size="8.2" textLength="4.05" lengthAdjust="spacingAndGlyphs" fill="#333" style="stroke-width:0.08px">0</text>
<line x1="100.65" y1="312.90" x2="100.65" y2="315.90" stroke="#000" stroke-width="1.2" stroke-linecap="butt"/>
<text x="98.62" y="324.80" font-size="8.2" textLength="4.05" lengthAdjust="spacingAndGlyphs" fill="#333" style="stroke-width:0.08px">5</text>
<line x1="146.90" y1="312.90" x2="146.90" y2="315.90" stroke="#000" stroke-width="1.2" stroke-linecap="butt"/>
<text x="142.85" y="324.80" font-size="8.2" textLength="8.10" lengthAdjust="spacingAndGlyphs" fill="#333" style="stroke-width:0.08px">10</text>
<line x1="193.15" y1="312.90" x2="193.15" y2="315.90" stroke="#000" stroke-width="1.2" stroke-linecap="butt"/>
<text x="189.10" y="324.80" font-size="8.2" textLength="8.10" lengthAdjust="spacingAndGlyphs" fill="#333" style="stroke-width:0.08px">15</text>
<line x1="239.40" y1="312.90" x2="239.40" y2="315.90" stroke="#000" stroke-width="1.2" stroke-linecap="butt"/>
<text x="235.35" y="324.80" font-size="8.2" textLength="8.10" lengthAdjust="spacingAndGlyphs" fill="#333" style="stroke-width:0.08px">20</text>
<line x1="80.60" y1="232.60" x2="86.00" y2="232.60" stroke="#cc0010" stroke-width="1.5" stroke-linecap="butt"/>
<text x="88.75" y="235.50" font-size="9.4" textLength="52.30" lengthAdjust="spacingAndGlyphs" >SLO PCs HIGH</text>
<line x1="153.75" y1="232.60" x2="158.75" y2="232.60" stroke="#3cf000" stroke-width="1.5" stroke-linecap="butt"/>
<text x="161.90" y="235.50" font-size="9.4" textLength="50.60" lengthAdjust="spacingAndGlyphs" >SLO PCs LOW</text>
<line x1="174.50" y1="287.00" x2="174.50" y2="312.00" stroke="#000" stroke-width="1.2" stroke-dasharray="1.3 1.3" stroke-linecap="butt"/>
<polyline points="54.40,242.00 110.00,242.00 110.00,248.75 202.50,248.75 202.50,264.25 247.50,264.25" fill="none" stroke="#3cf000" stroke-width="1.8" stroke-linejoin="miter"/>
<polyline points="54.40,242.00 54.40,246.25 63.30,246.25 63.30,255.50 91.25,255.50 91.25,260.40 128.40,260.40 128.40,274.50 174.50,274.50 174.50,286.25 247.50,286.25" fill="none" stroke="#cc0010" stroke-width="1.8" stroke-linejoin="miter"/>
<text x="55.50" y="292.00" font-size="8.8" textLength="34.00" lengthAdjust="spacingAndGlyphs" ><tspan font-style="italic">P</tspan> = 0.031</text>
<text x="0" y="0" font-size="9.2" textLength="93.8" lengthAdjust="spacingAndGlyphs" fill="#222222" transform="translate(19.6,322.6) rotate(-90)">Progression-free survival (%)</text>
<text x="97.30" y="338.30" font-size="9.0" textLength="99.00" lengthAdjust="spacingAndGlyphs" >Time from diagnosis (months)</text>
<text x="46.20" y="351.70" font-size="9.0" textLength="55.70" lengthAdjust="spacingAndGlyphs" >Numbers at risk</text>
<rect x="45.30" y="354.30" width="203.20" height="16.30" fill="none" stroke="#111" stroke-width="1.3" rx="0"/>
<text x="6.90" y="360.60" font-size="5.0" textLength="35.00" lengthAdjust="spacingAndGlyphs" style="stroke:none" >SLO PCs HIGH</text>
<text x="8.10" y="368.50" font-size="5.0" textLength="33.80" lengthAdjust="spacingAndGlyphs" style="stroke:none" >SLO PCs LOW</text>
<text x="50.65" y="361.40" font-size="7.9" textLength="7.50" lengthAdjust="spacingAndGlyphs" fill="#303030" style="stroke:none">15</text>
<text x="98.72" y="361.40" font-size="7.9" textLength="3.75" lengthAdjust="spacingAndGlyphs" fill="#303030" style="stroke:none">9</text>
<text x="144.72" y="361.40" font-size="7.9" textLength="3.75" lengthAdjust="spacingAndGlyphs" fill="#303030" style="stroke:none">4</text>
<text x="191.12" y="361.40" font-size="7.9" textLength="3.75" lengthAdjust="spacingAndGlyphs" fill="#303030" style="stroke:none">1</text>
<text x="237.12" y="361.40" font-size="7.9" textLength="3.75" lengthAdjust="spacingAndGlyphs" fill="#303030" style="stroke:none">0</text>
<text x="50.65" y="369.00" font-size="7.9" textLength="7.50" lengthAdjust="spacingAndGlyphs" fill="#303030" style="stroke:none">14</text>
<text x="96.85" y="369.00" font-size="7.9" textLength="7.50" lengthAdjust="spacingAndGlyphs" fill="#303030" style="stroke:none">10</text>
<text x="144.72" y="369.00" font-size="7.9" textLength="3.75" lengthAdjust="spacingAndGlyphs" fill="#303030" style="stroke:none">7</text>
<text x="191.12" y="369.00" font-size="7.9" textLength="3.75" lengthAdjust="spacingAndGlyphs" fill="#303030" style="stroke:none">6</text>
<text x="237.12" y="369.00" font-size="7.9" textLength="3.75" lengthAdjust="spacingAndGlyphs" fill="#303030" style="stroke:none">1</text>
<text x="273.10" y="222.90" font-size="10" textLength="7.50" lengthAdjust="spacingAndGlyphs" font-weight="bold" style="stroke:#000;stroke-width:0.45px" fill="#000" >C</text>
<line x1="305.60" y1="238.10" x2="305.60" y2="313.60" stroke="#000" stroke-width="1.5" stroke-linecap="butt"/>
<line x1="304.90" y1="313.00" x2="510.30" y2="313.00" stroke="#000" stroke-width="1.5" stroke-linecap="butt"/>
<line x1="302.60" y1="242.10" x2="305.60" y2="242.10" stroke="#000" stroke-width="1.2" stroke-linecap="butt"/>
<text x="286.65" y="245.00" font-size="8.2" textLength="12.15" lengthAdjust="spacingAndGlyphs" fill="#333" style="stroke-width:0.08px">100</text>
<line x1="302.60" y1="259.00" x2="305.60" y2="259.00" stroke="#000" stroke-width="1.2" stroke-linecap="butt"/>
<text x="290.70" y="261.90" font-size="8.2" textLength="8.10" lengthAdjust="spacingAndGlyphs" fill="#333" style="stroke-width:0.08px">75</text>
<line x1="302.60" y1="275.90" x2="305.60" y2="275.90" stroke="#000" stroke-width="1.2" stroke-linecap="butt"/>
<text x="290.70" y="278.80" font-size="8.2" textLength="8.10" lengthAdjust="spacingAndGlyphs" fill="#333" style="stroke-width:0.08px">50</text>
<line x1="302.60" y1="292.75" x2="305.60" y2="292.75" stroke="#000" stroke-width="1.2" stroke-linecap="butt"/>
<text x="290.70" y="295.65" font-size="8.2" textLength="8.10" lengthAdjust="spacingAndGlyphs" fill="#333" style="stroke-width:0.08px">25</text>
<line x1="302.60" y1="309.60" x2="305.60" y2="309.60" stroke="#000" stroke-width="1.2" stroke-linecap="butt"/>
<text x="294.75" y="312.50" font-size="8.2" textLength="4.05" lengthAdjust="spacingAndGlyphs" fill="#333" style="stroke-width:0.08px">0</text>
<line x1="315.00" y1="313.00" x2="315.00" y2="316.00" stroke="#000" stroke-width="1.2" stroke-linecap="butt"/>
<text x="312.98" y="324.80" font-size="8.2" textLength="4.05" lengthAdjust="spacingAndGlyphs" fill="#333" style="stroke-width:0.08px">0</text>
<line x1="376.90" y1="313.00" x2="376.90" y2="316.00" stroke="#000" stroke-width="1.2" stroke-linecap="butt"/>
<text x="372.85" y="324.80" font-size="8.2" textLength="8.10" lengthAdjust="spacingAndGlyphs" fill="#333" style="stroke-width:0.08px">10</text>
<line x1="438.80" y1="313.00" x2="438.80" y2="316.00" stroke="#000" stroke-width="1.2" stroke-linecap="butt"/>
<text x="434.75" y="324.80" font-size="8.2" textLength="8.10" lengthAdjust="spacingAndGlyphs" fill="#333" style="stroke-width:0.08px">20</text>
<line x1="500.70" y1="313.00" x2="500.70" y2="316.00" stroke="#000" stroke-width="1.2" stroke-linecap="butt"/>
<text x="496.65" y="324.80" font-size="8.2" textLength="8.10" lengthAdjust="spacingAndGlyphs" fill="#333" style="stroke-width:0.08px">30</text>
<line x1="343.50" y1="231.90" x2="348.00" y2="231.90" stroke="#cc0010" stroke-width="1.5" stroke-linecap="butt"/>
<text x="351.00" y="234.90" font-size="9.4" textLength="49.40" lengthAdjust="spacingAndGlyphs" >SLO PCsHIGH</text>
<line x1="414.60" y1="231.90" x2="419.00" y2="231.90" stroke="#3cf000" stroke-width="1.5" stroke-linecap="butt"/>
<text x="421.00" y="234.90" font-size="9.4" textLength="51.30" lengthAdjust="spacingAndGlyphs" >SLO PCs LOW</text>
<polyline points="314.75,242.20 351.90,242.20 351.90,248.50 500.40,248.50" fill="none" stroke="#3cf000" stroke-width="1.8" stroke-linejoin="miter"/>
<polyline points="314.75,242.20 314.75,246.25 320.90,246.25 320.90,255.80 364.60,255.80 364.60,269.10 481.00,269.10" fill="none" stroke="#cc0010" stroke-width="1.8" stroke-linejoin="miter"/>
<text x="318.50" y="292.30" font-size="8.8" textLength="24.20" lengthAdjust="spacingAndGlyphs" ><tspan font-style="italic">P</tspan> = 0.1</text>
<text x="0" y="0" font-size="9.2" textLength="63.3" lengthAdjust="spacingAndGlyphs" fill="#222222" transform="translate(281.4,308.7) rotate(-90)">Overall survival (%)</text>
<text x="358.60" y="338.30" font-size="9.0" textLength="98.90" lengthAdjust="spacingAndGlyphs" >Time from diagnosis (months)</text>
<text x="306.80" y="351.70" font-size="9.0" textLength="55.70" lengthAdjust="spacingAndGlyphs" >Numbers at risk</text>
<rect x="306.30" y="354.50" width="203.20" height="16.20" fill="none" stroke="#111" stroke-width="1.3" rx="0"/>
<text x="268.00" y="360.90" font-size="5.0" textLength="35.70" lengthAdjust="spacingAndGlyphs" style="stroke:none" >SLO PCs HIGH</text>
<text x="269.50" y="368.80" font-size="5.0" textLength="34.20" lengthAdjust="spacingAndGlyphs" style="stroke:none" >SLO PCs LOW</text>
<text x="311.25" y="361.30" font-size="7.9" textLength="7.50" lengthAdjust="spacingAndGlyphs" fill="#303030" style="stroke:none">15</text>
<text x="375.32" y="361.30" font-size="7.9" textLength="3.75" lengthAdjust="spacingAndGlyphs" fill="#303030" style="stroke:none">5</text>
<text x="436.93" y="361.30" font-size="7.9" textLength="3.75" lengthAdjust="spacingAndGlyphs" fill="#303030" style="stroke:none">2</text>
<text x="498.32" y="361.30" font-size="7.9" textLength="3.75" lengthAdjust="spacingAndGlyphs" fill="#303030" style="stroke:none">0</text>
<text x="311.25" y="369.20" font-size="7.9" textLength="7.50" lengthAdjust="spacingAndGlyphs" fill="#303030" style="stroke:none">14</text>
<text x="375.32" y="369.20" font-size="7.9" textLength="3.75" lengthAdjust="spacingAndGlyphs" fill="#303030" style="stroke:none">7</text>
<text x="436.93" y="369.20" font-size="7.9" textLength="3.75" lengthAdjust="spacingAndGlyphs" fill="#303030" style="stroke:none">2</text>
<text x="498.32" y="369.20" font-size="7.9" textLength="3.75" lengthAdjust="spacingAndGlyphs" fill="#303030" style="stroke:none">1</text>
<text x="12.25" y="391.90" font-size="10" textLength="8.30" lengthAdjust="spacingAndGlyphs" font-weight="bold" style="stroke:#000;stroke-width:0.45px" fill="#000" >D</text>
<line x1="46.90" y1="408.50" x2="46.90" y2="483.60" stroke="#000" stroke-width="1.5" stroke-linecap="butt"/>
<line x1="46.20" y1="483.00" x2="244.30" y2="483.00" stroke="#000" stroke-width="1.5" stroke-linecap="butt"/>
<line x1="43.90" y1="411.90" x2="46.90" y2="411.90" stroke="#000" stroke-width="1.2" stroke-linecap="butt"/>
<text x="28.45" y="414.80" font-size="8.2" textLength="12.15" lengthAdjust="spacingAndGlyphs" fill="#333" style="stroke-width:0.08px">100</text>
<line x1="43.90" y1="428.75" x2="46.90" y2="428.75" stroke="#000" stroke-width="1.2" stroke-linecap="butt"/>
<text x="32.50" y="431.65" font-size="8.2" textLength="8.10" lengthAdjust="spacingAndGlyphs" fill="#333" style="stroke-width:0.08px">75</text>
<line x1="43.90" y1="445.60" x2="46.90" y2="445.60" stroke="#000" stroke-width="1.2" stroke-linecap="butt"/>
<text x="32.50" y="448.50" font-size="8.2" textLength="8.10" lengthAdjust="spacingAndGlyphs" fill="#333" style="stroke-width:0.08px">50</text>
<line x1="43.90" y1="462.60" x2="46.90" y2="462.60" stroke="#000" stroke-width="1.2" stroke-linecap="butt"/>
<text x="32.50" y="465.50" font-size="8.2" textLength="8.10" lengthAdjust="spacingAndGlyphs" fill="#333" style="stroke-width:0.08px">25</text>
<line x1="43.90" y1="479.60" x2="46.90" y2="479.60" stroke="#000" stroke-width="1.2" stroke-linecap="butt"/>
<text x="36.55" y="482.50" font-size="8.2" textLength="4.05" lengthAdjust="spacingAndGlyphs" fill="#333" style="stroke-width:0.08px">0</text>
<line x1="55.50" y1="483.00" x2="55.50" y2="486.00" stroke="#000" stroke-width="1.2" stroke-linecap="butt"/>
<text x="53.48" y="495.30" font-size="8.2" textLength="4.05" lengthAdjust="spacingAndGlyphs" fill="#333" style="stroke-width:0.08px">0</text>
<line x1="85.40" y1="483.00" x2="85.40" y2="486.00" stroke="#000" stroke-width="1.2" stroke-linecap="butt"/>
<text x="81.35" y="495.30" font-size="8.2" textLength="8.10" lengthAdjust="spacingAndGlyphs" fill="#333" style="stroke-width:0.08px">10</text>
<line x1="115.30" y1="483.00" x2="115.30" y2="486.00" stroke="#000" stroke-width="1.2" stroke-linecap="butt"/>
<text x="111.25" y="495.30" font-size="8.2" textLength="8.10" lengthAdjust="spacingAndGlyphs" fill="#333" style="stroke-width:0.08px">20</text>
<line x1="145.20" y1="483.00" x2="145.20" y2="486.00" stroke="#000" stroke-width="1.2" stroke-linecap="butt"/>
<text x="141.15" y="495.30" font-size="8.2" textLength="8.10" lengthAdjust="spacingAndGlyphs" fill="#333" style="stroke-width:0.08px">30</text>
<line x1="175.10" y1="483.00" x2="175.10" y2="486.00" stroke="#000" stroke-width="1.2" stroke-linecap="butt"/>
<text x="171.05" y="495.30" font-size="8.2" textLength="8.10" lengthAdjust="spacingAndGlyphs" fill="#333" style="stroke-width:0.08px">40</text>
<line x1="205.00" y1="483.00" x2="205.00" y2="486.00" stroke="#000" stroke-width="1.2" stroke-linecap="butt"/>
<text x="200.95" y="495.30" font-size="8.2" textLength="8.10" lengthAdjust="spacingAndGlyphs" fill="#333" style="stroke-width:0.08px">50</text>
<line x1="234.90" y1="483.00" x2="234.90" y2="486.00" stroke="#000" stroke-width="1.2" stroke-linecap="butt"/>
<text x="230.85" y="495.30" font-size="8.2" textLength="8.10" lengthAdjust="spacingAndGlyphs" fill="#333" style="stroke-width:0.08px">60</text>
<line x1="42.10" y1="402.10" x2="46.90" y2="402.10" stroke="#cc0010" stroke-width="1.5" stroke-linecap="butt"/>
<text x="49.80" y="405.50" font-size="9.8" textLength="32.30" lengthAdjust="spacingAndGlyphs" >PB/CD39</text>
<text x="82.70" y="401.90" font-size="7.0" textLength="9.80" lengthAdjust="spacingAndGlyphs" >+ve</text>
<text x="93.60" y="405.50" font-size="9.8" textLength="49.40" lengthAdjust="spacingAndGlyphs" >BM PCs HIGH</text>
<line x1="148.70" y1="402.10" x2="153.80" y2="402.10" stroke="#3cf000" stroke-width="1.5" stroke-linecap="butt"/>
<text x="156.70" y="405.50" font-size="9.8" textLength="31.70" lengthAdjust="spacingAndGlyphs" >PB/CD39</text>
<text x="189.00" y="401.90" font-size="7.0" textLength="9.80" lengthAdjust="spacingAndGlyphs" >+ve</text>
<text x="200.80" y="405.50" font-size="9.8" textLength="47.80" lengthAdjust="spacingAndGlyphs" >BM PCs LOW</text>
<line x1="143.90" y1="447.00" x2="143.90" y2="482.00" stroke="#000" stroke-width="1.2" stroke-dasharray="1.3 1.3" stroke-linecap="butt"/>
<line x1="198.80" y1="445.00" x2="198.80" y2="482.00" stroke="#000" stroke-width="1.2" stroke-dasharray="1.3 1.3" stroke-linecap="butt"/>
<polyline points="55.60,411.70 63.00,411.90 65.40,411.90 65.40,413.20 67.30,413.20 67.30,413.65 69.20,413.65 69.20,414.10 71.15,414.10 71.15,414.75 73.10,414.75 73.10,415.40 75.50,415.40 75.50,415.95 77.90,415.95 77.90,416.50 80.80,417.00 83.70,417.00 83.70,418.50 88.50,418.90 90.40,418.90 90.40,419.40 92.30,419.40 92.30,419.90 95.20,419.90 95.20,421.30 97.07,421.30 97.07,421.77 98.93,421.77 98.93,422.23 100.80,422.23 100.80,422.70 102.70,422.70 102.70,423.20 104.60,423.20 104.60,423.70 108.50,424.10 113.30,424.60 115.70,424.60 115.70,425.60 119.00,425.60 119.00,429.00 120.95,429.00 120.95,429.45 122.90,429.45 122.90,429.90 125.80,430.40 127.70,430.40 127.70,431.35 129.60,431.35 129.60,432.30 131.53,432.30 131.53,433.10 133.47,433.10 133.47,433.90 135.40,433.90 135.40,434.70 137.80,434.70 137.80,435.20 140.20,435.20 140.20,435.70 143.80,436.25 145.50,436.25 145.50,437.68 147.20,437.68 147.20,439.10 157.80,439.10 159.70,439.10 159.70,441.10 166.00,441.30 168.80,441.30 168.80,443.30 172.70,443.50 174.10,443.50 174.10,444.60 199.00,444.60 199.00,449.90 230.20,449.90" fill="none" stroke="#3cf000" stroke-width="1.9" stroke-linejoin="miter"/>
<polyline points="55.60,411.90 56.70,411.90 56.70,412.50 59.10,412.50 59.10,413.10 61.50,413.10 61.50,413.70 63.90,413.70 63.90,414.15 66.30,414.15 66.30,414.60 69.20,414.60 69.20,415.60 71.20,415.60 71.20,417.00 73.10,417.00 73.10,417.75 75.00,417.75 75.00,418.50 77.40,418.50 77.40,418.85 79.80,418.85 79.80,419.20 81.70,419.20 81.70,420.40 84.60,420.40 84.60,422.10 86.55,422.10 86.55,422.45 88.50,422.45 88.50,422.80 90.40,422.80 90.40,423.75 92.30,423.75 92.30,424.70 95.20,424.70 95.20,426.20 98.80,426.70 101.70,426.70 101.70,428.90 104.10,428.90 104.10,429.90 106.50,429.90 106.50,430.90 108.43,430.90 108.43,431.70 110.37,431.70 110.37,432.50 112.30,432.50 112.30,433.30 114.70,433.30 114.70,434.00 117.10,434.00 117.10,434.70 120.00,434.70 120.00,436.30 122.40,436.30 122.40,436.95 124.80,436.95 124.80,437.60 127.70,437.60 127.70,441.00 131.50,441.40 133.43,441.40 133.43,442.07 135.37,442.07 135.37,442.73 137.30,442.73 137.30,443.40 139.80,443.40 139.80,444.70 142.30,444.70 142.30,446.00 144.80,446.00 144.80,447.30 147.03,447.30 147.03,447.78 149.27,447.78 149.27,448.27 151.50,448.27 151.50,448.75 164.00,449.20 166.00,449.20 166.00,450.20 171.70,450.40 173.70,450.40 173.70,451.60 179.40,451.60 181.30,451.60 181.30,453.80 185.20,454.00 188.00,454.00 188.00,456.90 188.40,458.10 195.60,458.10 196.10,462.40 197.50,462.40 197.50,463.40 198.00,466.25 214.80,466.25" fill="none" stroke="#cc0010" stroke-width="1.9" stroke-linejoin="miter"/>
<text x="59.40" y="467.50" font-size="8.8" textLength="38.00" lengthAdjust="spacingAndGlyphs" ><tspan font-style="italic">P</tspan> = 0.0013</text>
<text x="0" y="0" font-size="9.2" textLength="93.6" lengthAdjust="spacingAndGlyphs" fill="#222222" transform="translate(21.2,492.6) rotate(-90)">Progression-free survival (%)</text>
<text x="95.80" y="509.50" font-size="9.0" textLength="99.20" lengthAdjust="spacingAndGlyphs" >Time from diagnosis (months)</text>
<text x="47.50" y="521.70" font-size="9.0" textLength="55.70" lengthAdjust="spacingAndGlyphs" >Numbers at risk</text>
<rect x="46.30" y="524.80" width="197.50" height="16.80" fill="none" stroke="#111" stroke-width="1.3" rx="0"/>
<text x="13.10" y="525.75" font-size="5.0" textLength="23.00" lengthAdjust="spacingAndGlyphs" style="stroke:none" >PB/CD39</text>
<text x="36.90" y="524.00" font-size="4.4" textLength="5.60" lengthAdjust="spacingAndGlyphs" style="stroke:none" >+ve</text>
<text x="10.25" y="531.00" font-size="5.0" textLength="32.50" lengthAdjust="spacingAndGlyphs" style="stroke:none" >BM PCs HIGH</text>
<text x="14.00" y="538.50" font-size="5.0" textLength="22.20" lengthAdjust="spacingAndGlyphs" style="stroke:none" >PB/CD39</text>
<text x="36.90" y="536.80" font-size="4.4" textLength="5.60" lengthAdjust="spacingAndGlyphs" style="stroke:none" >+ve</text>
<text x="12.25" y="543.50" font-size="5.0" textLength="31.50" lengthAdjust="spacingAndGlyphs" style="stroke:none" >BM PCs LOW</text>
<text x="49.50" y="532.20" font-size="8.8" textLength="12.00" lengthAdjust="spacingAndGlyphs" fill="#303030" style="stroke:none">276</text>
<text x="79.35" y="532.20" font-size="8.8" textLength="12.00" lengthAdjust="spacingAndGlyphs" fill="#303030" style="stroke:none">248</text>
<text x="109.20" y="532.20" font-size="8.8" textLength="12.00" lengthAdjust="spacingAndGlyphs" fill="#303030" style="stroke:none">140</text>
<text x="141.05" y="532.20" font-size="8.8" textLength="8.00" lengthAdjust="spacingAndGlyphs" fill="#303030" style="stroke:none">57</text>
<text x="170.90" y="532.20" font-size="8.8" textLength="8.00" lengthAdjust="spacingAndGlyphs" fill="#303030" style="stroke:none">23</text>
<text x="202.75" y="532.20" font-size="8.8" textLength="4.00" lengthAdjust="spacingAndGlyphs" fill="#303030" style="stroke:none">1</text>
<text x="232.60" y="532.20" font-size="8.8" textLength="4.00" lengthAdjust="spacingAndGlyphs" fill="#303030" style="stroke:none">0</text>
<text x="49.50" y="540.00" font-size="8.8" textLength="12.00" lengthAdjust="spacingAndGlyphs" fill="#303030" style="stroke:none">276</text>
<text x="79.35" y="540.00" font-size="8.8" textLength="12.00" lengthAdjust="spacingAndGlyphs" fill="#303030" style="stroke:none">233</text>
<text x="109.20" y="540.00" font-size="8.8" textLength="12.00" lengthAdjust="spacingAndGlyphs" fill="#303030" style="stroke:none">157</text>
<text x="141.05" y="540.00" font-size="8.8" textLength="8.00" lengthAdjust="spacingAndGlyphs" fill="#303030" style="stroke:none">69</text>
<text x="170.90" y="540.00" font-size="8.8" textLength="8.00" lengthAdjust="spacingAndGlyphs" fill="#303030" style="stroke:none">21</text>
<text x="202.75" y="540.00" font-size="8.8" textLength="4.00" lengthAdjust="spacingAndGlyphs" fill="#303030" style="stroke:none">4</text>
<text x="232.60" y="540.00" font-size="8.8" textLength="4.00" lengthAdjust="spacingAndGlyphs" fill="#303030" style="stroke:none">0</text>
<text x="273.75" y="391.90" font-size="10" textLength="6.60" lengthAdjust="spacingAndGlyphs" font-weight="bold" style="stroke:#000;stroke-width:0.45px" fill="#000" >E</text>
<line x1="310.60" y1="408.75" x2="310.60" y2="483.60" stroke="#000" stroke-width="1.5" stroke-linecap="butt"/>
<line x1="309.90" y1="483.00" x2="509.80" y2="483.00" stroke="#000" stroke-width="1.5" stroke-linecap="butt"/>
<line x1="307.60" y1="412.25" x2="310.60" y2="412.25" stroke="#000" stroke-width="1.2" stroke-linecap="butt"/>
<text x="292.25" y="415.15" font-size="8.2" textLength="12.15" lengthAdjust="spacingAndGlyphs" fill="#333" style="stroke-width:0.08px">100</text>
<line x1="307.60" y1="429.20" x2="310.60" y2="429.20" stroke="#000" stroke-width="1.2" stroke-linecap="butt"/>
<text x="296.30" y="432.10" font-size="8.2" textLength="8.10" lengthAdjust="spacingAndGlyphs" fill="#333" style="stroke-width:0.08px">75</text>
<line x1="307.60" y1="445.90" x2="310.60" y2="445.90" stroke="#000" stroke-width="1.2" stroke-linecap="butt"/>
<text x="296.30" y="448.80" font-size="8.2" textLength="8.10" lengthAdjust="spacingAndGlyphs" fill="#333" style="stroke-width:0.08px">50</text>
<line x1="307.60" y1="462.75" x2="310.60" y2="462.75" stroke="#000" stroke-width="1.2" stroke-linecap="butt"/>
<text x="296.30" y="465.65" font-size="8.2" textLength="8.10" lengthAdjust="spacingAndGlyphs" fill="#333" style="stroke-width:0.08px">25</text>
<line x1="307.60" y1="479.75" x2="310.60" y2="479.75" stroke="#000" stroke-width="1.2" stroke-linecap="butt"/>
<text x="300.35" y="482.65" font-size="8.2" textLength="4.05" lengthAdjust="spacingAndGlyphs" fill="#333" style="stroke-width:0.08px">0</text>
<line x1="319.50" y1="483.00" x2="319.50" y2="486.00" stroke="#000" stroke-width="1.2" stroke-linecap="butt"/>
<text x="317.48" y="495.30" font-size="8.2" textLength="4.05" lengthAdjust="spacingAndGlyphs" fill="#333" style="stroke-width:0.08px">0</text>
<line x1="349.55" y1="483.00" x2="349.55" y2="486.00" stroke="#000" stroke-width="1.2" stroke-linecap="butt"/>
<text x="345.50" y="495.30" font-size="8.2" textLength="8.10" lengthAdjust="spacingAndGlyphs" fill="#333" style="stroke-width:0.08px">10</text>
<line x1="379.60" y1="483.00" x2="379.60" y2="486.00" stroke="#000" stroke-width="1.2" stroke-linecap="butt"/>
<text x="375.55" y="495.30" font-size="8.2" textLength="8.10" lengthAdjust="spacingAndGlyphs" fill="#333" style="stroke-width:0.08px">20</text>
<line x1="409.65" y1="483.00" x2="409.65" y2="486.00" stroke="#000" stroke-width="1.2" stroke-linecap="butt"/>
<text x="405.60" y="495.30" font-size="8.2" textLength="8.10" lengthAdjust="spacingAndGlyphs" fill="#333" style="stroke-width:0.08px">30</text>
<line x1="439.70" y1="483.00" x2="439.70" y2="486.00" stroke="#000" stroke-width="1.2" stroke-linecap="butt"/>
<text x="435.65" y="495.30" font-size="8.2" textLength="8.10" lengthAdjust="spacingAndGlyphs" fill="#333" style="stroke-width:0.08px">40</text>
<line x1="469.75" y1="483.00" x2="469.75" y2="486.00" stroke="#000" stroke-width="1.2" stroke-linecap="butt"/>
<text x="465.70" y="495.30" font-size="8.2" textLength="8.10" lengthAdjust="spacingAndGlyphs" fill="#333" style="stroke-width:0.08px">50</text>
<line x1="499.80" y1="483.00" x2="499.80" y2="486.00" stroke="#000" stroke-width="1.2" stroke-linecap="butt"/>
<text x="495.75" y="495.30" font-size="8.2" textLength="8.10" lengthAdjust="spacingAndGlyphs" fill="#333" style="stroke-width:0.08px">60</text>
<line x1="306.30" y1="402.30" x2="311.50" y2="402.30" stroke="#cc0010" stroke-width="1.5" stroke-linecap="butt"/>
<text x="314.10" y="405.60" font-size="9.8" textLength="32.00" lengthAdjust="spacingAndGlyphs" >PB/CD39</text>
<text x="346.70" y="402.00" font-size="7.0" textLength="9.80" lengthAdjust="spacingAndGlyphs" >+ve</text>
<text x="358.20" y="405.60" font-size="9.8" textLength="49.80" lengthAdjust="spacingAndGlyphs" >BM PCs HIGH</text>
<line x1="413.30" y1="402.30" x2="417.90" y2="402.30" stroke="#3cf000" stroke-width="1.5" stroke-linecap="butt"/>
<text x="420.80" y="405.60" font-size="9.8" textLength="32.30" lengthAdjust="spacingAndGlyphs" >PB/CD39</text>
<text x="453.60" y="402.00" font-size="7.0" textLength="9.80" lengthAdjust="spacingAndGlyphs" >+ve</text>
<text x="464.80" y="405.60" font-size="9.8" textLength="47.90" lengthAdjust="spacingAndGlyphs" >BM PCs LOW</text>
<polyline points="319.80,412.40 320.80,412.70 322.70,412.70 322.70,413.80 326.50,414.10 329.07,414.10 329.07,414.53 331.63,414.53 331.63,414.97 334.20,414.97 334.20,415.40 336.13,415.40 336.13,415.70 338.07,415.70 338.07,416.00 340.00,416.00 340.00,416.30 346.70,416.70 349.10,416.70 349.10,417.10 351.50,417.10 351.50,417.50 353.45,417.50 353.45,418.07 355.40,418.07 355.40,418.65 357.80,418.65 357.80,419.12 360.20,419.12 360.20,419.60 364.80,420.10 367.20,420.10 367.20,421.05 369.60,421.05 369.60,422.00 371.53,422.00 371.53,422.33 373.47,422.33 373.47,422.67 375.40,422.67 375.40,423.00 377.33,423.00 377.33,423.63 379.27,423.63 379.27,424.27 381.20,424.27 381.20,424.90 383.43,424.90 383.43,425.43 385.67,425.43 385.67,425.97 387.90,425.97 387.90,426.50 395.60,426.50 397.50,426.50 397.50,427.17 399.40,427.17 399.40,427.83 401.30,427.83 401.30,428.50 403.80,428.50 403.80,428.73 406.30,428.73 406.30,428.97 408.80,428.97 408.80,429.20 410.73,429.20 410.73,429.43 412.67,429.43 412.67,429.67 414.60,429.67 414.60,429.90 422.30,430.40 424.20,430.40 424.20,431.20 430.00,431.20 431.40,431.20 431.40,432.10 436.25,432.30 437.70,432.30 437.70,433.30 486.70,433.30" fill="none" stroke="#cc0010" stroke-width="1.9" stroke-linejoin="miter"/>
<polyline points="319.80,412.20 326.50,412.50 328.50,412.50 328.50,413.20 330.40,413.20 330.40,413.50 332.30,413.50 332.30,413.80 334.20,413.80 334.20,414.10 337.10,414.10 337.10,414.80 343.80,415.10 346.23,415.10 346.23,415.28 348.65,415.28 348.65,415.45 351.07,415.45 351.07,415.62 353.50,415.62 353.50,415.80 355.40,415.80 355.40,416.03 357.30,416.03 357.30,416.27 359.20,416.27 359.20,416.50 361.13,416.50 361.13,416.77 363.07,416.77 363.07,417.03 365.00,417.03 365.00,417.30 371.50,417.70 374.40,417.70 374.40,419.10 376.32,419.10 376.32,419.28 378.25,419.28 378.25,419.45 380.18,419.45 380.18,419.62 382.10,419.62 382.10,419.80 384.05,419.80 384.05,420.55 386.00,420.55 386.00,421.30 387.90,421.30 387.90,421.53 389.80,421.53 389.80,421.77 391.70,421.77 391.70,422.00 410.80,422.20 413.20,422.20 413.20,424.10 434.30,424.10 435.80,424.10 435.80,426.30 437.70,426.30 437.70,427.50 454.00,427.50 454.50,430.40 495.40,430.40" fill="none" stroke="#3cf000" stroke-width="1.9" stroke-linejoin="miter"/>
<text x="323.30" y="467.50" font-size="8.8" textLength="33.70" lengthAdjust="spacingAndGlyphs" ><tspan font-style="italic">P</tspan> = 0.018</text>
<text x="0" y="0" font-size="9.2" textLength="63.3" lengthAdjust="spacingAndGlyphs" fill="#222222" transform="translate(284.9,477.6) rotate(-90)">Overall survival (%)</text>
<text x="360.30" y="509.30" font-size="9.0" textLength="98.50" lengthAdjust="spacingAndGlyphs" >Time from diagnosis (months)</text>
<text x="310.50" y="521.60" font-size="9.0" textLength="55.70" lengthAdjust="spacingAndGlyphs" >Numbers at risk</text>
<rect x="310.10" y="524.80" width="198.90" height="16.80" fill="none" stroke="#111" stroke-width="1.3" rx="0"/>
<text x="276.40" y="525.80" font-size="5.0" textLength="22.50" lengthAdjust="spacingAndGlyphs" style="stroke:none" >PB/CD39</text>
<text x="299.60" y="524.00" font-size="4.4" textLength="5.60" lengthAdjust="spacingAndGlyphs" style="stroke:none" >+ve</text>
<text x="273.75" y="531.60" font-size="5.0" textLength="33.20" lengthAdjust="spacingAndGlyphs" style="stroke:none" >BM PCs HIGH</text>
<text x="276.40" y="538.80" font-size="5.0" textLength="22.50" lengthAdjust="spacingAndGlyphs" style="stroke:none" >PB/CD39</text>
<text x="299.60" y="537.00" font-size="4.4" textLength="5.60" lengthAdjust="spacingAndGlyphs" style="stroke:none" >+ve</text>
<text x="275.00" y="544.20" font-size="5.0" textLength="31.70" lengthAdjust="spacingAndGlyphs" style="stroke:none" >BM PCs LOW</text>
<text x="313.50" y="532.20" font-size="8.8" textLength="12.00" lengthAdjust="spacingAndGlyphs" fill="#303030" style="stroke:none">276</text>
<text x="343.55" y="532.20" font-size="8.8" textLength="12.00" lengthAdjust="spacingAndGlyphs" fill="#303030" style="stroke:none">242</text>
<text x="373.60" y="532.20" font-size="8.8" textLength="12.00" lengthAdjust="spacingAndGlyphs" fill="#303030" style="stroke:none">179</text>
<text x="405.65" y="532.20" font-size="8.8" textLength="8.00" lengthAdjust="spacingAndGlyphs" fill="#303030" style="stroke:none">91</text>
<text x="435.70" y="532.20" font-size="8.8" textLength="8.00" lengthAdjust="spacingAndGlyphs" fill="#303030" style="stroke:none">35</text>
<text x="467.75" y="532.20" font-size="8.8" textLength="4.00" lengthAdjust="spacingAndGlyphs" fill="#303030" style="stroke:none">6</text>
<text x="497.80" y="532.20" font-size="8.8" textLength="4.00" lengthAdjust="spacingAndGlyphs" fill="#303030" style="stroke:none">0</text>
<text x="313.50" y="540.00" font-size="8.8" textLength="12.00" lengthAdjust="spacingAndGlyphs" fill="#303030" style="stroke:none">276</text>
<text x="343.55" y="540.00" font-size="8.8" textLength="12.00" lengthAdjust="spacingAndGlyphs" fill="#303030" style="stroke:none">252</text>
<text x="373.60" y="540.00" font-size="8.8" textLength="12.00" lengthAdjust="spacingAndGlyphs" fill="#303030" style="stroke:none">185</text>
<text x="405.65" y="540.00" font-size="8.8" textLength="8.00" lengthAdjust="spacingAndGlyphs" fill="#303030" style="stroke:none">98</text>
<text x="435.70" y="540.00" font-size="8.8" textLength="8.00" lengthAdjust="spacingAndGlyphs" fill="#303030" style="stroke:none">35</text>
<text x="465.75" y="540.00" font-size="8.8" textLength="8.00" lengthAdjust="spacingAndGlyphs" fill="#303030" style="stroke:none">12</text>
<text x="497.80" y="540.00" font-size="8.8" textLength="4.00" lengthAdjust="spacingAndGlyphs" fill="#303030" style="stroke:none">0</text>
<rect x="0.00" y="0.00" width="520.00" height="1.40" fill="#000" stroke="none" stroke-width="1" rx="0"/>
<rect x="0.00" y="0.00" width="1.30" height="552.00" fill="#000" stroke="none" stroke-width="1" rx="0"/>
<rect x="518.50" y="0.00" width="1.50" height="552.00" fill="#000" stroke="none" stroke-width="1" rx="0"/>
<rect x="0.00" y="550.50" width="520.00" height="1.50" fill="#000" stroke="none" stroke-width="1" rx="0"/>
</svg>
</body></html>
